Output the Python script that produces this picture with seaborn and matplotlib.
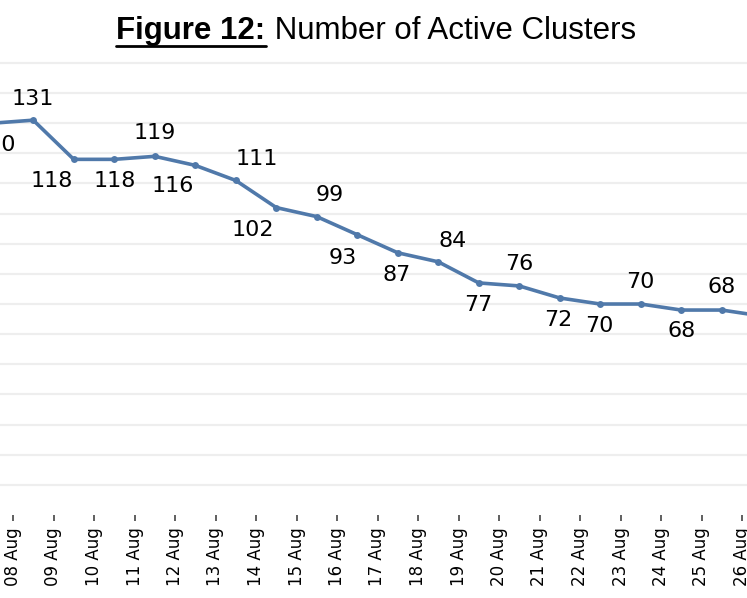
import numpy as np
import pandas as pd
import matplotlib
matplotlib.use("Agg")
import matplotlib.pyplot as plt
import seaborn as sns
from matplotlib.lines import Line2D

### Data
dates = ["07 Aug", "08 Aug", "09 Aug", "10 Aug", "11 Aug", "12 Aug", "13 Aug",
         "14 Aug", "15 Aug", "16 Aug", "17 Aug", "18 Aug", "19 Aug", "20 Aug",
         "21 Aug", "22 Aug", "23 Aug", "24 Aug", "25 Aug", "26 Aug"]
clusters = [130, 131, 118, 118, 119, 116, 111, 102, 99, 93,
            87, 84, 77, 76, 72, 70, 70, 68, 68, 66]

# label offsets in pixels (dx, dy), manual like the original
label_offsets = [(2, -22), (0, 21), (-22, -22), (0, -22), (0, 23), (-23, -21),
                 (21, 21), (-23, -22), (13, 22), (-15, -23), (-1, -22), (14, 21),
                 (0, -22), (0, 22), (-1, -22), (-1, -22), (0, 22), (0, -21),
                 (0, 23), (0, -22)]

LINE_COLOR = "#5079aa"
W, H = 747, 598

df = pd.DataFrame({"date": dates, "clusters": clusters})
df["pos"] = np.arange(len(df)) + 0.5  # points sit between the date ticks

sns.set_style("white")
plt.rcParams["font.family"] = ["DejaVu Sans"]

fig = plt.figure(figsize=(W / 100, H / 100), dpi=100)
# axes run past the figure edges: the reference is a crop of a wider chart
left_px, right_px = -27.5, 782.5
bottom_px, top_px = 515, 515 - 155 * 3.014
ax = fig.add_axes([left_px / W, (H - bottom_px) / H,
                   (right_px - left_px) / W, (bottom_px - top_px) / H])

sns.lineplot(data=df, x="pos", y="clusters", ax=ax, color=LINE_COLOR,
             linewidth=2.6, marker="o", markersize=5, markeredgewidth=0,
             clip_on=False)

for (px, val), (dx, dy) in zip(zip(df["pos"], df["clusters"]), label_offsets):
    ax.annotate(f"{val}", (px, val), xytext=(dx, dy), textcoords="offset pixels",
                ha="center", va="center", fontsize=16, color="black",
                annotation_clip=False)

ax.set_xlim(0, len(dates))
ax.set_ylim(0, 155)
ax.set_yticks(np.arange(10, 151, 10))
ax.set_yticklabels([])
ax.tick_params(axis="y", length=0, left=False)
ax.grid(axis="y", color="#eeeeee", linewidth=1.6)
ax.set_xticks(np.arange(len(dates)))
ax.set_xticklabels(dates, rotation=90, fontsize=12, color="black")
ax.tick_params(axis="x", bottom=True, length=4, width=1.2, color="#444444",
               pad=5, direction="out")
ax.set_xlabel(""); ax.set_ylabel("")
for s in ax.spines.values():
    s.set_visible(False)

# Title: bold underlined part + regular part
ty = 1 - 31 / H
t1 = fig.text(0, ty, "Figure 12:", fontsize=22.5, fontweight="bold", color="black",
              family="Liberation Sans", va="center", ha="left")
t2 = fig.text(0, ty, " Number of Active Clusters", fontsize=22.5, color="black",
              family="Liberation Sans", va="center", ha="left")
fig.canvas.draw()
r = fig.canvas.get_renderer()
w1 = t1.get_window_extent(r).width
w2 = t2.get_window_extent(r).width
x0 = 376 - (w1 + w2) / 2
t1.set_x(x0 / W)
t2.set_x((x0 + w1) / W)
uy = 1 - 46 / H
fig.add_artist(Line2D([x0 / W, (x0 + w1) / W], [uy, uy], transform=fig.transFigure,
                      color="black", linewidth=2))

plt.savefig("out.png", dpi=100)
